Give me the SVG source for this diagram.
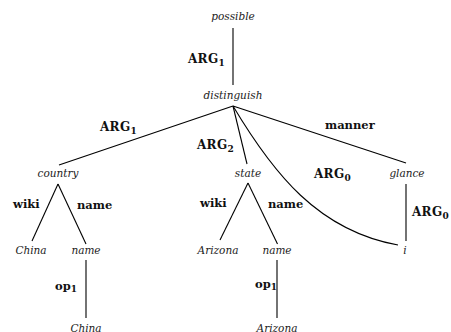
<svg xmlns="http://www.w3.org/2000/svg" width="451" height="332" viewBox="0 0 451 332">
<style>
.node { font-family: "DejaVu Serif", serif; font-style: italic; font-size: 10.5px; fill: #222; text-anchor: middle; }
.lbl { font-family: "DejaVu Serif", serif; font-weight: bold; font-size: 11.5px; fill: #111; }
.arg { font-size: 12px; letter-spacing: 0.3px; }
.sub { font-size: 9px; letter-spacing: 0; }
.edge { stroke: #000; stroke-width: 1.1; fill: none; }
</style>
<rect width="451" height="332" fill="#fff"/>
<g id="connectors">
  <line class="edge" x1="233" y1="28" x2="233" y2="85"/>
  <line class="edge" x1="233" y1="106" x2="59" y2="165"/>
  <line class="edge" x1="233" y1="106" x2="247" y2="164"/>
  <line class="edge" x1="233" y1="106" x2="406" y2="163"/>
  <path class="edge" d="M233,106 C273,173 318,230.6 398,245"/>
  <line class="edge" x1="58" y1="184" x2="32" y2="241"/>
  <line class="edge" x1="58" y1="184" x2="86" y2="244"/>
  <line class="edge" x1="248" y1="183" x2="220" y2="240"/>
  <line class="edge" x1="248" y1="183" x2="277.5" y2="244"/>
  <line class="edge" x1="406" y1="184" x2="406" y2="241"/>
  <line class="edge" x1="86" y1="260" x2="86" y2="318"/>
  <line class="edge" x1="277" y1="260" x2="277" y2="318"/>
  <text class="lbl arg" x="188" y="63">ARG<tspan class="sub" dy="3">1</tspan></text>
  <text class="lbl arg" x="100" y="131">ARG<tspan class="sub" dy="3">1</tspan></text>
  <text class="lbl arg" x="197" y="149">ARG<tspan class="sub" dy="3">2</tspan></text>
  <text class="lbl" x="325" y="129">manner</text>
  <text class="lbl arg" x="314" y="178">ARG<tspan class="sub" dy="3">0</tspan></text>
  <text class="lbl arg" x="412" y="216">ARG<tspan class="sub" dy="3">0</tspan></text>
  <text class="lbl" x="13" y="208">wiki</text>
  <text class="lbl" x="77" y="209">name</text>
  <text class="lbl" x="200" y="207">wiki</text>
  <text class="lbl" x="268" y="208">name</text>
  <text class="lbl" x="55" y="290">op<tspan class="sub" dy="2">1</tspan></text>
  <text class="lbl" x="255" y="288">op<tspan class="sub" dy="2">1</tspan></text>
</g>
<g id="n-possible"><text class="node" x="233" y="20">possible</text></g>
<g id="n-distinguish"><text class="node" x="233" y="99">distinguish</text></g>
<g id="n-country"><text class="node" x="58" y="177">country</text></g>
<g id="n-state"><text class="node" x="248" y="177">state</text></g>
<g id="n-glance"><text class="node" x="407" y="177">glance</text></g>
<g id="n-china1"><text class="node" x="31" y="254">China</text></g>
<g id="n-name1"><text class="node" x="86" y="254">name</text></g>
<g id="n-arizona1"><text class="node" x="218" y="254">Arizona</text></g>
<g id="n-name2"><text class="node" x="277" y="254">name</text></g>
<g id="n-i"><text class="node" x="405" y="254">i</text></g>
<g id="n-china2"><text class="node" x="86" y="332">China</text></g>
<g id="n-arizona2"><text class="node" x="277" y="332">Arizona</text></g>
</svg>
